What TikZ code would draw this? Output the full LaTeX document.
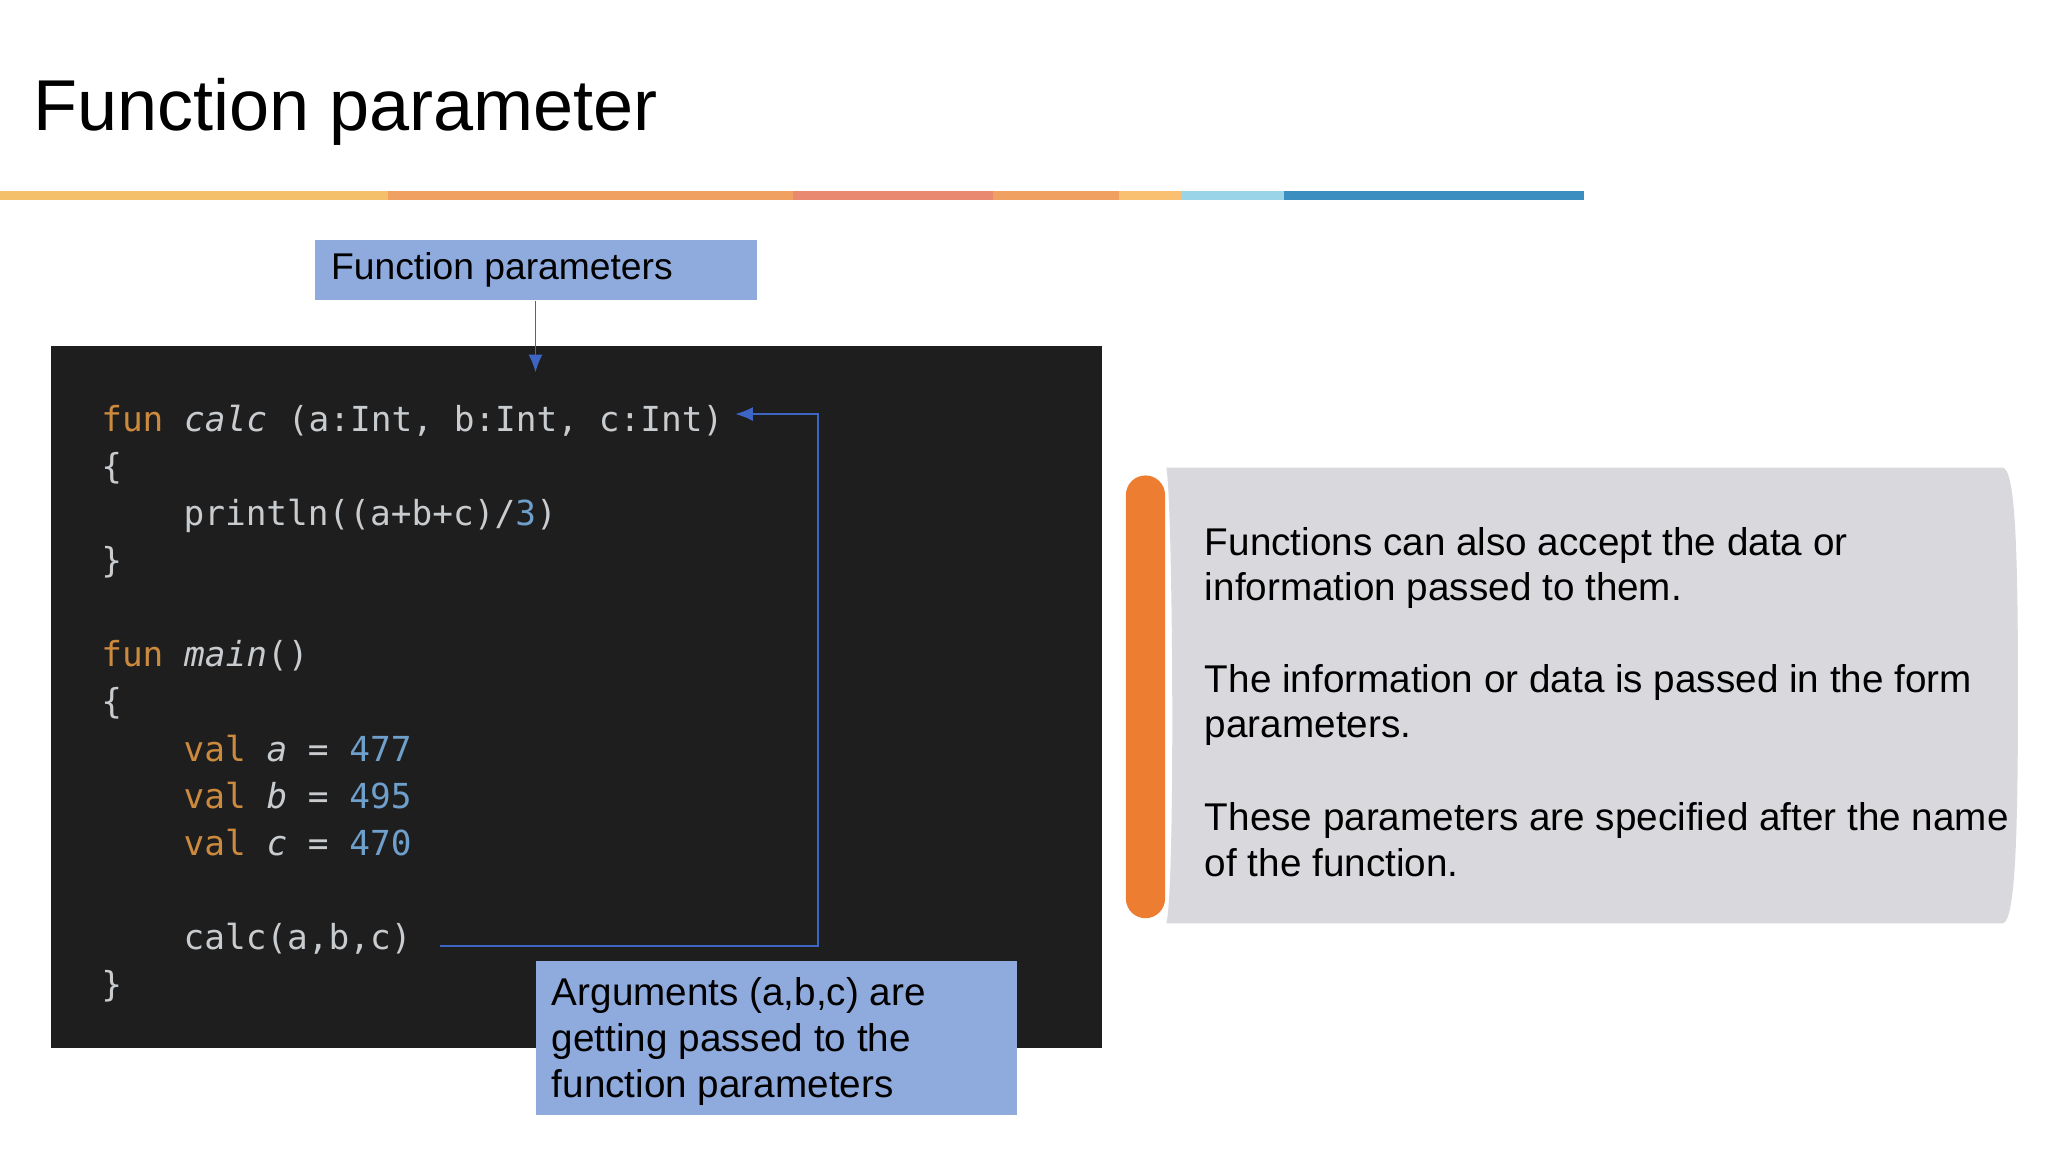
\documentclass[tikz,border=0pt]{standalone}
\usepackage{fontspec}
\setmainfont{Liberation Sans}
\setmonofont{DejaVu Sans Mono}
\usetikzlibrary{arrows.meta}
\definecolor{kw}{HTML}{CC8A3E}
\definecolor{idc}{HTML}{C9CCCF}
\definecolor{num}{HTML}{6F9FCB}
\definecolor{codebg}{HTML}{1E1E1F}
\definecolor{lab}{HTML}{8FAADC}
\definecolor{conn}{HTML}{3D66C4}
\definecolor{panel}{HTML}{D9D8DC}
\definecolor{obar}{HTML}{ED7D31}
\newcommand{\K}[1]{\textcolor{kw}{#1}}
\newcommand{\N}[1]{\textcolor{num}{#1}}
\newcommand{\I}[1]{\textit{#1}}
\tikzset{
  codeln/.style={anchor=base west,inner sep=0pt,text=idc,font=\fontsize{9.8pt}{12pt}\ttfamily},
  labbox/.style={fill=lab,draw=none},
  body/.style={anchor=base west,inner sep=0pt,font=\fontsize{11pt}{13pt}\selectfont},
  conline/.style={draw=conn,line width=0.5pt},
}
\begin{document}
\begin{tikzpicture}[x=0.01306cm,y=-0.01306cm]
\fill[white] (0,0) rectangle (1568,882);
\useasboundingbox (0,0) rectangle (1568,882);
\node[anchor=base west,inner sep=0pt,font=\fontsize{20.5pt}{24pt}\selectfont] (title) at (25,100) {Function parameter};
% color bar
\foreach \a/\b/\c in {0/297/F5C06A,297/607/F0A060,607/760/E98A70,760/857/F0A060,857/905/F8C070,905/983/9AD4E8,983/1213/3A8FC0}{
  \definecolor{segc}{HTML}{\c}\fill[segc] (\a,146) rectangle (\b,153);}
% code box
\fill[codebg] (39,265) rectangle (844,802);
\node[codeln] (l1) at (77,330) {\K{fun} \I{calc} (a:Int, b:Int, c:Int)};
\node[codeln] (l2) at (77,366) {\{};
\node[codeln] (l3) at (140,402) {println((a+b+c)/\N{3})};
\node[codeln] (l4) at (77,438) {\}};
\node[codeln] (l5) at (77,510) {\K{fun} \I{main}()};
\node[codeln] (l6) at (77,546) {\{};
\node[codeln] (l7) at (140,583) {\K{val} \I{a} = \N{477}};
\node[codeln] (l8) at (140,619) {\K{val} \I{b} = \N{495}};
\node[codeln] (l9) at (140,655) {\K{val} \I{c} = \N{470}};
\node[codeln] (l10) at (140,727) {calc(a,b,c)};
\node[codeln] (l11) at (77,763) {\}};
% labels
\node[labbox,minimum width=338*0.01306cm,minimum height=46*0.01306cm,anchor=north west] (fp) at (241,183) {};
\node[anchor=west,inner sep=0pt,font=\fontsize{10.6pt}{13pt}\selectfont] (fpt) at (253,207) {Function parameters};
\coordinate (fpend) at (410,285);
\draw[conline,-{Latex[length=5pt,width=4pt]}] (fp.south -| fpend) -- (fpend);
\node[labbox,minimum width=368*0.01306cm,minimum height=118*0.01306cm,anchor=north west] (arg) at (410,735) {};
\node[body] (a1) at (422,770) {Arguments (a,b,c) are};
\node[body] (a2) at (422,805) {getting passed to the};
\node[body] (a3) at (422,840) {function parameters};
\coordinate (cs) at (337,724);
\coordinate (ce) at (563,317);
\draw[conline,-{Latex[length=5pt,width=4pt]}] (cs) -- (626,724) -- (626,317) -- (ce);
% panel
\fill[panel] (893,358) -- (1533,358) .. controls (1543,358) and (1545,420) .. (1545,530) .. controls (1545,640) and (1543,707) .. (1533,707) -- (893,707) .. controls (900,680) and (898,385) .. (893,358) -- cycle;
\fill[obar,rounded corners=15*0.01306cm] (862,364) rectangle (892,703);
\node[body] (p1) at (922,425) {Functions can also accept the data or};
\node[body] (p2) at (922,460) {information passed to them.};
\node[body] (p3) at (922,530) {The information or data is passed in the form};
\node[body] (p4) at (922,565) {parameters.};
\node[body] (p5) at (922,636) {These parameters are specified after the name};
\node[body] (p6) at (922,671) {of the function.};
\end{tikzpicture}
\end{document}
